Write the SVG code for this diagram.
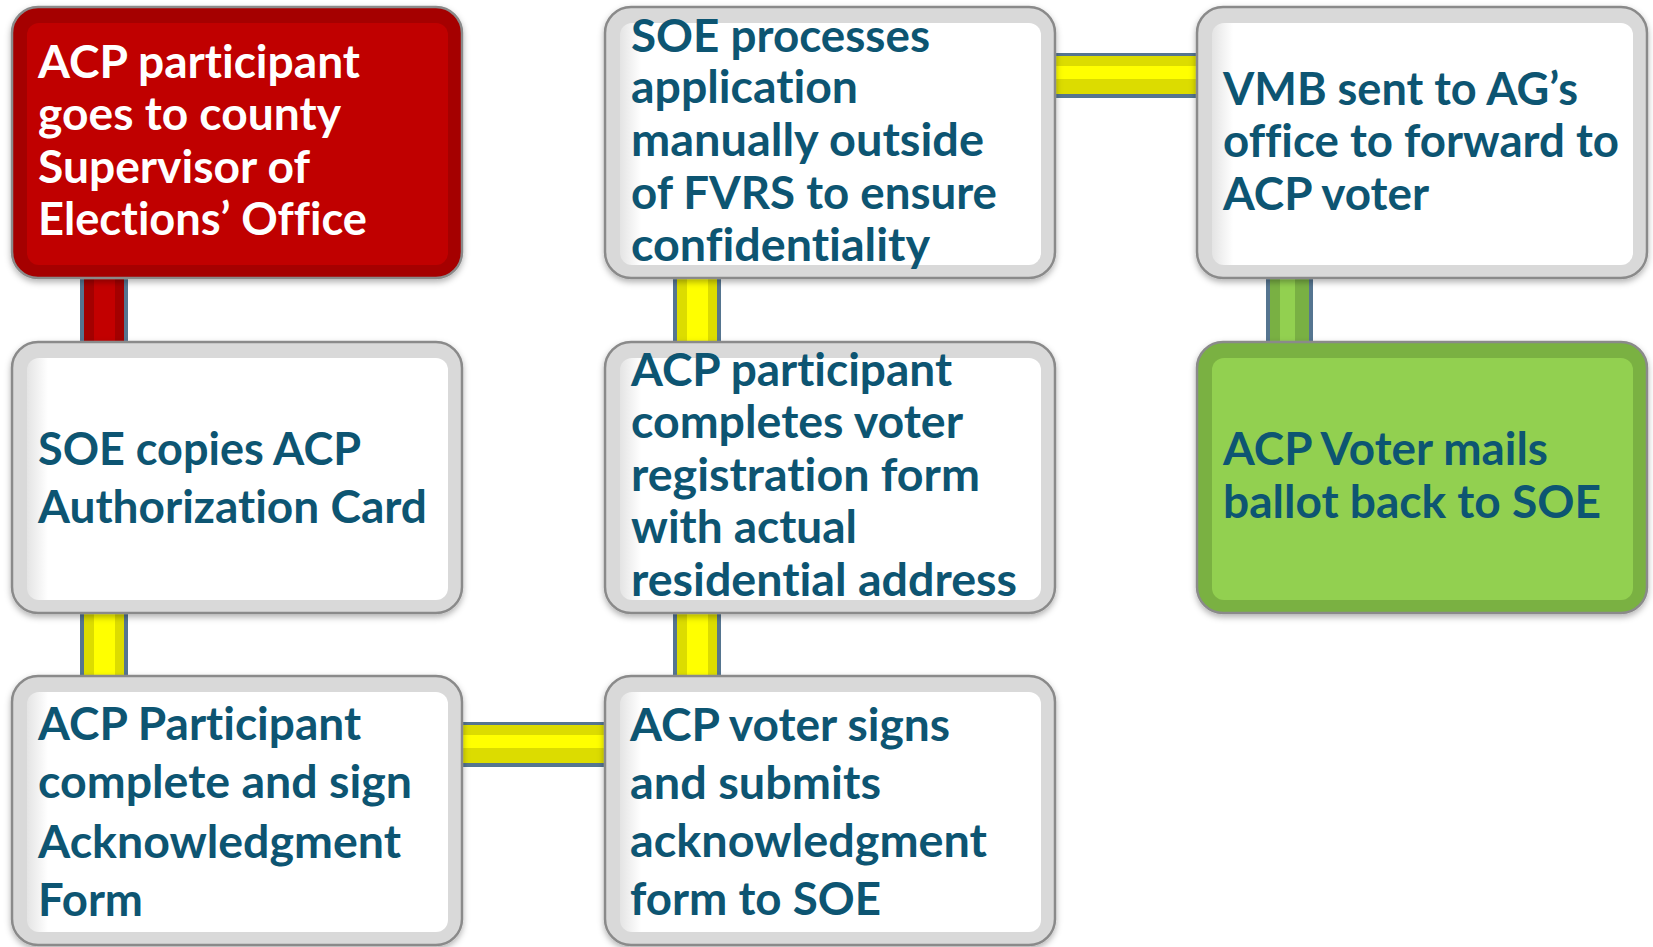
<svg xmlns="http://www.w3.org/2000/svg" width="1653" height="947" viewBox="0 0 1653 947">
<style>
  .rim { stroke: #8a8a8a; stroke-width: 2.5; filter: url(#shadow); }
  .white .rim { fill: #d9d9d9; }
  .white .panel { fill: url(#panelWhite); }
  .red .rim { fill: #a50000; }
  .red .panel { fill: #c00000; }
  .green .rim { fill: #7ab143; }
  .green .panel { fill: #92d050; }
  text { font-family: Lato, "Liberation Sans", Arial, sans-serif; font-weight: 700; font-size: 45px; fill: #0d5572; font-variant-ligatures: none; }
  .red text { fill: #ffffff; }
</style>
<defs>
  <filter id="shadow" x="-5%" y="-5%" width="110%" height="115%">
    <feDropShadow dx="0" dy="3" stdDeviation="3" flood-color="#000" flood-opacity="0.3"/>
  </filter>
  <linearGradient id="panelWhite" x1="0" y1="0" x2="1" y2="0">
    <stop offset="0" stop-color="#e4e4e4"/>
    <stop offset="0.05" stop-color="#ffffff"/>
    <stop offset="1" stop-color="#ffffff"/>
  </linearGradient>
  <linearGradient id="yellowV" x1="0" y1="0" x2="1" y2="0">
    <stop offset="0" stop-color="#557590"/><stop offset="0.08" stop-color="#557590"/>
    <stop offset="0.08" stop-color="#dcdc00"/><stop offset="0.3" stop-color="#dcdc00"/>
    <stop offset="0.3" stop-color="#ffff00"/><stop offset="0.72" stop-color="#ffff00"/>
    <stop offset="0.72" stop-color="#dcdc00"/><stop offset="0.92" stop-color="#dcdc00"/>
    <stop offset="0.92" stop-color="#557590"/><stop offset="1" stop-color="#557590"/>
  </linearGradient>
  <linearGradient id="yellowH" x1="0" y1="0" x2="0" y2="1">
    <stop offset="0" stop-color="#557590"/><stop offset="0.06" stop-color="#557590"/>
    <stop offset="0.06" stop-color="#dcdc00"/><stop offset="0.28" stop-color="#dcdc00"/>
    <stop offset="0.28" stop-color="#ffff00"/><stop offset="0.58" stop-color="#ffff00"/>
    <stop offset="0.58" stop-color="#dcdc00"/><stop offset="0.92" stop-color="#dcdc00"/>
    <stop offset="0.92" stop-color="#557590"/><stop offset="1" stop-color="#557590"/>
  </linearGradient>
  <linearGradient id="redV" x1="0" y1="0" x2="1" y2="0">
    <stop offset="0" stop-color="#557590"/><stop offset="0.09" stop-color="#557590"/>
    <stop offset="0.09" stop-color="#a30000"/><stop offset="0.3" stop-color="#a30000"/>
    <stop offset="0.3" stop-color="#c20000"/><stop offset="0.72" stop-color="#c20000"/>
    <stop offset="0.72" stop-color="#a30000"/><stop offset="0.91" stop-color="#a30000"/>
    <stop offset="0.91" stop-color="#557590"/><stop offset="1" stop-color="#557590"/>
  </linearGradient>
  <linearGradient id="greenV" x1="0" y1="0" x2="1" y2="0">
    <stop offset="0" stop-color="#557590"/><stop offset="0.08" stop-color="#557590"/>
    <stop offset="0.08" stop-color="#79b043"/><stop offset="0.3" stop-color="#79b043"/>
    <stop offset="0.3" stop-color="#92d050"/><stop offset="0.62" stop-color="#92d050"/>
    <stop offset="0.62" stop-color="#79b043"/><stop offset="0.92" stop-color="#79b043"/>
    <stop offset="0.92" stop-color="#557590"/><stop offset="1" stop-color="#557590"/>
  </linearGradient>
</defs>

<rect x="0" y="0" width="1653" height="947" fill="#ffffff"/>

<g id="connectors">
  <rect x="80" y="270" width="48" height="80" fill="url(#redV)"/>
  <rect x="80" y="605" width="48" height="80" fill="url(#yellowV)"/>
  <rect x="455" y="722" width="158" height="45" fill="url(#yellowH)"/>
  <rect x="673" y="605" width="48" height="80" fill="url(#yellowV)"/>
  <rect x="673" y="270" width="48" height="80" fill="url(#yellowV)"/>
  <rect x="1048" y="53" width="156" height="45" fill="url(#yellowH)"/>
  <rect x="1266" y="270" width="47" height="80" fill="url(#greenV)"/>
</g>

<g id="node-goes-to-soe" class="node red">
  <rect class="rim" x="12" y="7" width="450" height="271" rx="26"/>
  <rect class="panel" x="27" y="23" width="421" height="242" rx="12"/>
  <text x="38" y="78" textLength="322" lengthAdjust="spacingAndGlyphs">ACP participant</text>
  <text x="38" y="130" textLength="303" lengthAdjust="spacingAndGlyphs">goes to county</text>
  <text x="38" y="183" textLength="272" lengthAdjust="spacingAndGlyphs">Supervisor of</text>
  <text x="38" y="235" textLength="329" lengthAdjust="spacingAndGlyphs">Elections’ Office</text>
</g>

<g id="node-soe-processes" class="node white">
  <rect class="rim" x="605" y="7" width="450" height="271" rx="26"/>
  <rect class="panel" x="620" y="23" width="421" height="242" rx="12"/>
  <text x="631" y="52" textLength="299" lengthAdjust="spacingAndGlyphs">SOE processes</text>
  <text x="631" y="103" textLength="227" lengthAdjust="spacingAndGlyphs">application</text>
  <text x="631" y="156" textLength="353" lengthAdjust="spacingAndGlyphs">manually outside</text>
  <text x="631" y="209" textLength="366" lengthAdjust="spacingAndGlyphs">of FVRS to ensure</text>
  <text x="631" y="261" textLength="299" lengthAdjust="spacingAndGlyphs">confidentiality</text>
</g>

<g id="node-vmb-sent" class="node white">
  <rect class="rim" x="1197" y="7" width="450" height="271" rx="26"/>
  <rect class="panel" x="1212" y="23" width="421" height="242" rx="12"/>
  <text x="1223" y="105" textLength="355" lengthAdjust="spacingAndGlyphs">VMB sent to AG’s</text>
  <text x="1223" y="157" textLength="396" lengthAdjust="spacingAndGlyphs">office to forward to</text>
  <text x="1223" y="210" textLength="206" lengthAdjust="spacingAndGlyphs">ACP voter</text>
</g>

<g id="node-soe-copies" class="node white">
  <rect class="rim" x="12" y="342" width="450" height="271" rx="26"/>
  <rect class="panel" x="27" y="358" width="421" height="242" rx="12"/>
  <text x="38" y="465" textLength="323" lengthAdjust="spacingAndGlyphs">SOE copies ACP</text>
  <text x="38" y="523" textLength="389" lengthAdjust="spacingAndGlyphs">Authorization Card</text>
</g>

<g id="node-completes-registration" class="node white">
  <rect class="rim" x="605" y="342" width="450" height="271" rx="26"/>
  <rect class="panel" x="620" y="358" width="421" height="242" rx="12"/>
  <text x="631" y="386" textLength="321" lengthAdjust="spacingAndGlyphs">ACP participant</text>
  <text x="631" y="438" textLength="332" lengthAdjust="spacingAndGlyphs">completes voter</text>
  <text x="631" y="491" textLength="349" lengthAdjust="spacingAndGlyphs">registration form</text>
  <text x="631" y="543" textLength="226" lengthAdjust="spacingAndGlyphs">with actual</text>
  <text x="631" y="596" textLength="386" lengthAdjust="spacingAndGlyphs">residential address</text>
</g>

<g id="node-mails-ballot" class="node green">
  <rect class="rim" x="1197" y="342" width="450" height="271" rx="26"/>
  <rect class="panel" x="1212" y="358" width="421" height="242" rx="12"/>
  <text x="1223" y="465" textLength="325" lengthAdjust="spacingAndGlyphs">ACP Voter mails</text>
  <text x="1223" y="518" textLength="378" lengthAdjust="spacingAndGlyphs">ballot back to SOE</text>
</g>

<g id="node-acknowledgment-form" class="node white">
  <rect class="rim" x="12" y="676" width="450" height="269" rx="26"/>
  <rect class="panel" x="27" y="692" width="421" height="240" rx="12"/>
  <text x="38" y="740" textLength="323" lengthAdjust="spacingAndGlyphs">ACP Participant</text>
  <text x="38" y="798" textLength="374" lengthAdjust="spacingAndGlyphs">complete and sign</text>
  <text x="38" y="858" textLength="363" lengthAdjust="spacingAndGlyphs">Acknowledgment</text>
  <text x="38" y="916" textLength="105" lengthAdjust="spacingAndGlyphs">Form</text>
</g>

<g id="node-voter-signs" class="node white">
  <rect class="rim" x="605" y="676" width="450" height="269" rx="26"/>
  <rect class="panel" x="620" y="692" width="421" height="240" rx="12"/>
  <text x="630" y="741" textLength="320" lengthAdjust="spacingAndGlyphs">ACP voter signs</text>
  <text x="630" y="799" textLength="251" lengthAdjust="spacingAndGlyphs">and submits</text>
  <text x="630" y="857" textLength="357" lengthAdjust="spacingAndGlyphs">acknowledgment</text>
  <text x="630" y="915" textLength="251" lengthAdjust="spacingAndGlyphs">form to SOE</text>
</g>
</svg>
